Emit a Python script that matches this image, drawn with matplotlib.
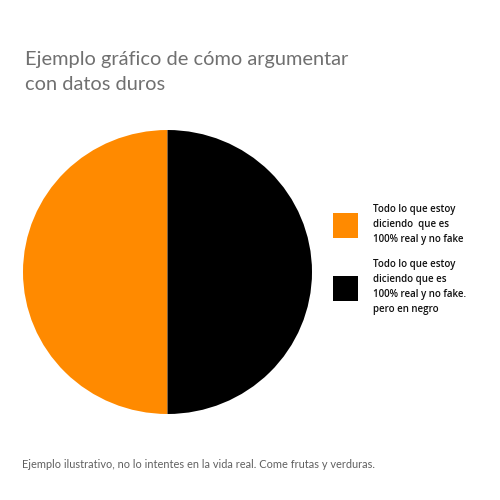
import matplotlib.pyplot as plt
from matplotlib.patches import Patch

title = "Ejemplo gráfico de cómo argumentar\ncon datos duros"
footer = "Ejemplo ilustrativo, no lo intentes en la vida real. Come frutas y verduras."
labels = ["Todo lo que estoy\ndiciendo  que es\n100% real y no fake",
          "Todo lo que estoy\ndiciendo que es\n100% real y no fake.\npero en negro"]
values = [50, 50]
colors = ["#FF8A00", "#000000"]

fig = plt.figure(figsize=(5, 5), dpi=100)
fig.patch.set_facecolor("white")

ax = fig.add_axes([0.046, 0.172, 0.578, 0.568])
wedges, _ = ax.pie(values, colors=colors, startangle=90, counterclock=True)
ax.set_aspect("auto")
ax.set_xlim(-1, 1)
ax.set_ylim(-1, 1)
ax.axis("off")

fig.text(0.05, 0.856, title, fontsize=14.4, color="#707070", family="Lato",
         linespacing=1.55, va="center", ha="left")
fig.text(0.043, 0.07, footer, fontsize=7.9, color="#606060", family="Lato",
         va="center", ha="left")

handles = [Patch(facecolor=c, edgecolor="none") for c in colors]
leg = fig.legend(handles, labels, loc="upper left", bbox_to_anchor=(0.648, 0.61),
                 frameon=False, handlelength=2.6, handleheight=3.6,
                 handletextpad=1.5, labelspacing=1.5,
                 prop={"family": "Open Sans", "weight": "semibold", "size": 7.0})
for t in leg.get_texts():
    t.set_color("#111111")
    t.set_linespacing(1.5)

fig.savefig("out.png", dpi=100)
